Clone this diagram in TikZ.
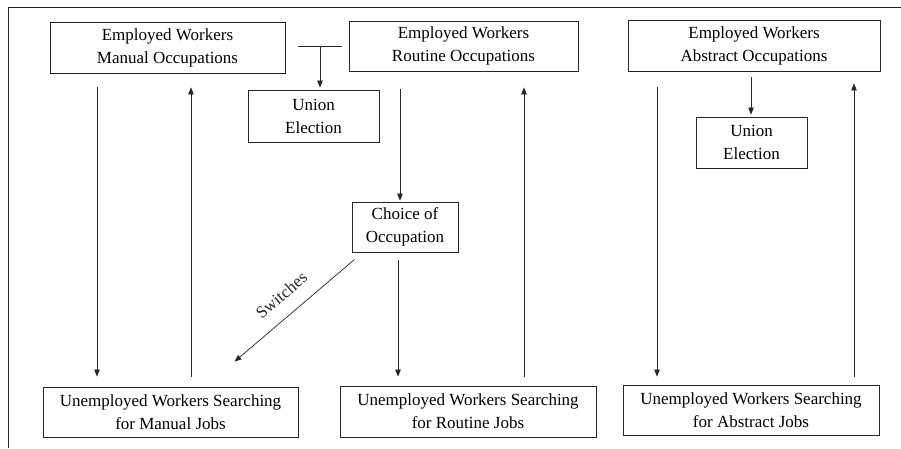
\documentclass[tikz,border=0pt]{standalone}
\usepackage{fontspec}
\setmainfont{Liberation Serif}
\usepackage{tikz}
\usetikzlibrary{arrows.meta}

\begin{document}
\begin{tikzpicture}[
    x=1pt, y=-1pt,
    box/.style={rectangle, draw=black!85, line width=0.8pt, align=center, inner sep=0pt, font=\fontsize{17}{23}\selectfont},
    arrow/.style={-{Triangle[length=7pt, width=5.5pt]}, line width=0.7pt, black!85}
]
    \useasboundingbox (0,0) rectangle (901,448);
    \draw[line width=0.8pt, black!85] (8,448) -- (8,7) -- (901,7);

    % employed workers
    \node[box, minimum width=235pt, minimum height=51pt] (memp) at (167.5,47.5) {Employed Workers\\Manual Occupations};
    \node[box, minimum width=229pt, minimum height=50pt] (remp) at (463.5,46) {Employed Workers\\Routine Occupations};
    \node[box, minimum width=252pt, minimum height=51pt] (aemp) at (754,45.5) {Employed Workers\\Abstract Occupations};

    \node[box, minimum width=131pt, minimum height=52pt] (uel1) at (313.5,116) {Union\\Election};
    \node[box, minimum width=111pt, minimum height=51pt] (uel2) at (751.5,142.5) {Union\\Election};
    \node[box, minimum width=106pt, minimum height=50pt] (chc) at (405,227) {Choice of\\Occupation};

    % unemployed workers
    \node[box, minimum width=255pt, minimum height=50pt] (mune) at (170.5,412) {Unemployed Workers Searching\\for Manual Jobs};
    \node[box, minimum width=256pt, minimum height=51pt] (rune) at (468,411.5) {Unemployed Workers Searching\\for Routine Jobs};
    \node[box, minimum width=256pt, minimum height=50pt] (aune) at (751,410) {Unemployed Workers Searching\\for Abstract Jobs};

    \coordinate (tm) at (320,46);
    \coordinate (mdn) at (97,0);
    \coordinate (mup) at (191,0);
    \coordinate (rdn) at (400,0);
    \coordinate (rdn2) at (398,0);
    \coordinate (rup) at (524,0);
    \coordinate (adn) at (657,0);
    \coordinate (ael) at (751,0);
    \coordinate (aup) at (854,0);

    \draw[line width=0.7pt, black!85, shorten <=13pt, shorten >=7pt] (memp.east |- tm) -- (remp.west |- tm);
    \draw[arrow, shorten >=2pt] (tm) -- (uel1.north -| tm);

    \draw[arrow, shorten <=14pt, shorten >=10pt] (memp.south -| mdn) -- (mune.north -| mdn);
    \draw[arrow, shorten <=10pt, shorten >=14pt] (mune.north -| mup) -- (memp.south -| mup);

    \draw[arrow, shorten <=18pt, shorten >=1pt] (remp.south -| rdn) -- (chc.north -| rdn);
    \draw[arrow, shorten <=8pt, shorten >=9pt] (chc.south -| rdn2) -- (rune.north -| rdn2);
    \draw[arrow, shorten <=9pt, shorten >=16pt] (rune.north -| rup) -- (remp.south -| rup);
    \draw[arrow] ([xshift=3pt, yshift=-7pt]chc.south west) -- node[pos=0.5, sloped, above=14pt, inner sep=0pt, font=\fontsize{17}{22}\selectfont] (swl) {Switches} ([xshift=64pt, yshift=25pt]mune.north);

    \draw[arrow, shorten <=16pt, shorten >=8pt] (aemp.south -| adn) -- (aune.north -| adn);
    \draw[arrow, shorten <=6pt, shorten >=2pt] (aemp.south -| ael) -- (uel2.north -| ael);
    \draw[arrow, shorten <=8pt, shorten >=12pt] (aune.north -| aup) -- (aemp.south -| aup);
\end{tikzpicture}
\end{document}
